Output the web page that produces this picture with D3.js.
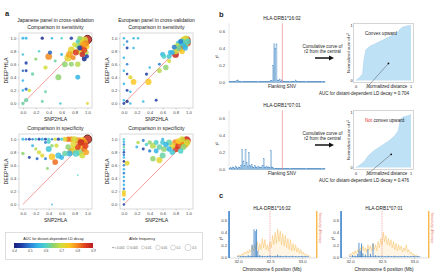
<!DOCTYPE html>
<html>
<head>
<meta charset="utf-8">
<script src="https://cdn.jsdelivr.net/npm/d3@7"></script>
<style>
  body { margin: 0; background: #fff; }
  svg { display: block; font-family: "Liberation Sans", Arial, sans-serif; }
</style>
</head>
<body>
<svg id="fig" width="440" height="279"></svg>
<script>
// ---- data: panel a, each point = [SNP2HLA, DEEP*HLA, AUC, allele freq]
const jpSens = [
  [1.0,0.98,0.88,0.5],[0.0,1.0,0.55,0.003],[0.05,1.0,0.55,0.003],[0.3,1.0,0.42,0.004],[0.45,1.0,0.55,0.002],
  [0.6,1.0,0.6,0.002],[0.75,1.0,0.45,0.005],[0.88,1.0,0.65,0.02],[0.9,0.95,0.72,0.1],[0.95,0.97,0.7,0.2],
  [0.93,0.9,0.78,0.05],[0.97,0.92,0.8,0.08],[0.85,0.88,0.65,0.03],[0.9,0.85,0.82,0.05],[0.95,0.82,0.85,0.04],
  [0.98,0.88,0.75,0.1],[0.8,0.9,0.7,0.02],[0.88,0.8,0.7,0.1],[0.75,0.82,0.72,0.15],[0.82,0.78,0.86,0.05],
  [0.92,0.75,0.88,0.03],[0.97,0.78,0.68,0.06],[0.85,0.95,0.6,0.01],[0.99,0.72,0.45,0.01],[0.78,0.7,0.8,0.02],
  [0.7,0.7,0.72,0.2],[0.72,0.75,0.78,0.1],[0.0,0.75,0.58,0.002],[0.05,0.62,0.45,0.004],[0.0,0.5,0.48,0.002],
  [0.05,0.5,0.45,0.003],[0.0,0.35,0.55,0.002],[0.05,0.22,0.48,0.004],[0.0,0.2,0.55,0.002],[0.1,0.2,0.7,0.005],
  [0.05,0.05,0.62,0.01],[0.0,0.0,0.62,0.005],[0.15,0.45,0.62,0.005],[0.2,0.68,0.65,0.004],[0.25,0.8,0.6,0.002],
  [0.35,0.55,0.7,0.01],[0.4,0.72,0.8,0.1],[0.42,0.78,0.48,0.01],[0.5,0.65,0.62,0.003],[0.55,0.4,0.65,0.05],
  [0.6,0.75,0.55,0.003],[0.65,0.6,0.65,0.04],[0.75,0.6,0.65,0.02],[0.85,0.6,0.68,0.03],[0.85,0.4,0.55,0.02],
  [0.3,0.03,0.62,0.003],[0.58,0.0,0.58,0.002],[1.0,0.0,0.72,0.003],[0.35,0.18,0.62,0.003],[0.88,0.85,0.45,0.02],
  [0.95,0.68,0.42,0.02],[0.9,0.95,0.7,0.3]
];
const euSens = [
  [0.97,0.97,0.88,0.5],[0.9,0.95,0.6,0.05],[0.93,0.92,0.8,0.1],[0.88,0.9,0.72,0.08],[0.95,0.9,0.65,0.1],
  [0.85,0.92,0.58,0.04],[0.92,0.88,0.55,0.05],[0.98,0.93,0.85,0.2],[0.82,0.88,0.7,0.03],[0.87,0.84,0.82,0.05],
  [0.9,0.8,0.75,0.04],[0.8,0.8,0.7,0.05],[0.85,0.85,0.62,0.03],[0.95,0.85,0.55,0.03],[0.78,0.86,0.5,0.02],
  [0.8,0.75,0.88,0.1],[0.75,0.78,0.55,0.02],[0.88,0.95,0.5,0.02],[0.96,0.99,0.7,0.1],[0.99,0.95,0.6,0.05],
  [0.93,0.97,0.75,0.2],[0.6,0.75,0.55,0.02],[0.62,0.72,0.6,0.02],[0.7,0.72,0.58,0.02],[0.72,0.78,0.55,0.02],
  [0.65,0.55,0.65,0.03],[0.55,0.5,0.68,0.02],[0.4,0.55,0.55,0.002],[0.35,0.45,0.45,0.004],[0.55,0.6,0.5,0.003],
  [0.7,0.65,0.7,0.01],[0.5,0.05,0.45,0.003],[0.3,0.03,0.55,0.002],[0.0,1.0,0.55,0.002],[0.05,0.95,0.5,0.002],
  [0.15,1.0,0.55,0.002],[0.22,1.0,0.55,0.002],[0.05,0.85,0.45,0.003],[0.15,0.85,0.55,0.002],[0.0,0.7,0.55,0.002],
  [0.05,0.6,0.5,0.002],[0.0,0.5,0.55,0.002],[0.05,0.45,0.45,0.002],[0.1,0.4,0.72,0.01],[0.15,0.33,0.75,0.04],
  [0.38,0.33,0.75,0.06],[0.0,0.3,0.55,0.002],[0.05,0.2,0.45,0.003],[0.1,0.18,0.55,0.002],[0.0,0.05,0.55,0.002],
  [0.05,0.03,0.42,0.004],[0.1,0.0,0.55,0.002],[0.0,0.0,0.45,0.003],[0.0,0.9,0.55,0.001]
];
const jpSpec = [
  [1.0,1.0,0.88,0.5],[0.0,1.0,0.55,0.003],[0.05,1.0,0.5,0.002],[0.1,1.0,0.45,0.003],[0.15,1.0,0.5,0.002],
  [0.2,1.0,0.6,0.003],[0.25,1.0,0.45,0.003],[0.3,1.0,0.55,0.004],[0.35,1.0,0.45,0.003],[0.4,1.0,0.6,0.003],
  [0.45,1.0,0.5,0.002],[0.5,1.0,0.7,0.005],[0.55,1.0,0.45,0.004],[0.6,1.0,0.6,0.004],[0.65,1.0,0.72,0.02],
  [0.7,1.0,0.82,0.03],[0.75,1.0,0.78,0.05],[0.8,1.0,0.7,0.05],[0.85,0.98,0.8,0.1],[0.92,0.98,0.75,0.15],
  [0.4,0.96,0.6,0.01],[0.35,0.95,0.5,0.003],[0.95,0.95,0.8,0.15],[0.9,0.9,0.75,0.1],[0.85,0.88,0.85,0.05],
  [0.8,0.85,0.72,0.1],[0.75,0.82,0.78,0.15],[0.88,0.8,0.65,0.1],[0.95,0.85,0.82,0.05],[0.78,0.92,0.72,0.05],
  [0.7,0.88,0.65,0.03],[0.82,0.78,0.6,0.08],[0.92,0.75,0.7,0.05],[0.97,0.9,0.85,0.05],[0.98,0.8,0.78,0.04],
  [0.9,0.95,0.88,0.1],[0.72,0.78,0.55,0.05],[0.0,0.78,0.65,0.005],[0.15,0.9,0.55,0.003],[0.2,0.85,0.68,0.004],
  [0.25,0.8,0.7,0.01],[0.3,0.75,0.72,0.01],[0.1,0.72,0.45,0.003],[0.22,0.7,0.48,0.003],[0.35,0.7,0.5,0.003],
  [0.4,0.85,0.58,0.05],[0.45,0.9,0.65,0.005],[0.45,0.73,0.75,0.08],[0.5,0.65,0.82,0.04],[0.55,0.75,0.57,0.06],
  [0.6,0.72,0.55,0.02],[0.65,0.78,0.62,0.03],[0.38,0.55,0.65,0.003],[0.85,0.45,0.6,0.001],[0.45,0.0,0.55,0.001],
  [0.52,0.9,0.7,0.01]
];
const euSpec = [
  [0.97,0.98,0.88,0.5],[0.0,1.0,0.6,0.002],[0.0,0.96,0.55,0.002],[0.0,0.92,0.5,0.002],[0.0,0.88,0.62,0.002],
  [0.0,0.84,0.55,0.002],[0.0,0.8,0.45,0.002],[0.0,0.76,0.5,0.002],[0.0,0.72,0.55,0.002],[0.0,0.66,0.42,0.002],
  [0.0,0.6,0.5,0.002],[0.0,0.54,0.55,0.002],[0.0,0.48,0.5,0.002],[0.0,0.42,0.55,0.002],[0.0,0.36,0.52,0.002],
  [0.0,0.3,0.55,0.002],[0.0,0.24,0.5,0.002],[0.0,0.19,0.72,0.01],[0.0,0.15,0.75,0.01],[0.0,0.08,0.55,0.002],
  [0.0,0.0,0.45,0.002],[0.05,0.63,0.72,0.02],[0.2,0.88,0.55,0.003],[0.22,0.95,0.68,0.005],[0.3,0.85,0.45,0.003],
  [0.35,0.92,0.6,0.005],[0.4,0.82,0.5,0.004],[0.4,0.95,0.65,0.01],[0.45,0.9,0.68,0.05],[0.5,0.95,0.6,0.02],
  [0.5,0.82,0.55,0.02],[0.55,0.88,0.62,0.03],[0.6,0.95,0.58,0.02],[0.62,0.85,0.65,0.04],[0.45,0.7,0.65,0.03],
  [0.55,0.68,0.72,0.06],[0.6,0.75,0.62,0.05],[0.65,0.92,0.55,0.03],[0.7,0.95,0.62,0.04],[0.7,0.85,0.55,0.03],
  [0.75,0.9,0.72,0.05],[0.75,0.8,0.58,0.03],[0.8,0.95,0.8,0.1],[0.8,0.85,0.86,0.08],[0.85,0.9,0.85,0.1],
  [0.85,0.97,0.75,0.05],[0.9,0.95,0.82,0.1],[0.92,0.88,0.65,0.05],[0.95,0.92,0.78,0.1],[0.98,0.95,0.7,0.08],
  [0.9,1.0,0.7,0.05],[0.88,0.82,0.6,0.03],[0.3,0.98,0.5,0.003],[0.6,1.0,0.55,0.003],[0.93,0.97,0.85,0.3]
];
const axisTicks = [0, 0.2, 0.4, 0.6, 0.8, 1.0];
const aucTicks = [0.4, 0.5, 0.6, 0.7, 0.8, 0.9];
const afLevels = [0.001, 0.005, 0.01, 0.05, 0.1, 0.5];
const afLabels = ['< 0.001', '0.005', '0.01', '0.05', '0.1', '0.5'];

// ---- data: panel b, r2 of flanking SNVs (ordered by position)
const r2Drb1602 = [
  0.01,0.015,0.01,0.01,0.015,0.01,0.01,0.02,0.03,0.01, 0.015,0.01,0.01,0.015,0.01,0.01,0.01,0.015,0.01,0.01,
  0.015,0.01,0.015,0.01,0.01,0.015,0.01,0.01,0.015,0.01, 0.01,0.015,0.01,0.01,0.015,0.01,0.015,0.01,0.015,0.025,
  0.02,0.2,0.45,0.4,0.45,0.03,0.02,0.04,0.015,0.03, 0.015,0.01,0.015,0.01,0.01,0.015,0.01,0.01,0.015,0.01,
  0.015,0.01,0.03,0.01,0.015,0.01,0.01,0.015,0.01,0.01, 0.01,0.015,0.01,0.01,0.01,0.015,0.01,0.01,0.01,0.01,
  0.01,0.01,0.015,0.01,0.01,0.01,0.01,0.01,0.01,0.01
];
const r2Drb0701 = [
  0.01,0.02,0.01,0.03,0.02,0.01,0.04,0.02,0.01,0.03, 0.02,0.05,0.23,0.1,0.05,0.23,0.08,0.04,0.2,0.05,
  0.04,0.06,0.03,0.02,0.05,0.03,0.02,0.04,0.03,0.02, 0.03,0.05,0.13,0.03,0.02,0.04,0.02,0.03,0.02,0.22,
  0.03,0.02,0.01,0.015,0.01,0.01,0.015,0.01,0.01,0.01, 0.01,0.01,0.01,0.01,0.015,0.01,0.01,0.01,0.01,0.01,
  0.01,0.01,0.01,0.01,0.01,0.01,0.01,0.01,0.01,0.01, 0.01,0.01,0.01,0.01,0.01,0.01,0.01,0.01,0.01,0.01,
  0.01,0.01,0.01,0.01,0.01,0.01,0.01,0.01,0.01,0.01
];
const centralIndex = 50;
// cumulative curves (normalized distance, normalized sum of r2)
const cum1602Dist = [0,0.07,0.12,0.145,0.18,0.25,0.38,0.5,0.62,0.74,0.83,0.92,1];
const cum1602Sum  = [0,0.06,0.12,0.37,0.56,0.62,0.68,0.74,0.8,0.86,0.96,0.99,1];
const cum0701Dist = [0,0.07,0.16,0.22,0.32,0.41,0.5,0.62,0.71,0.77,0.81,0.86,0.98,1];
const cum0701Sum  = [0,0.04,0.12,0.21,0.3,0.36,0.42,0.5,0.58,0.67,0.88,0.92,0.95,0.97];

// ---- data: panel c, positions in Mb
const c1602Pos = [32.0,32.04,32.08,32.12,32.16,32.2,32.22,32.25,32.27,32.29,32.31,32.34,32.38,32.42,32.46,32.5,32.54,32.58,32.62,32.66,32.7,32.75,32.8,32.85,32.9,32.95,33.0,33.05,33.1];
const c1602R2  = [0.02,0.01,0.02,0.01,0.03,0.02,0.2,0.45,0.42,0.45,0.1,0.03,0.02,0.01,0.02,0.03,0.01,0.02,0.04,0.02,0.01,0.02,0.01,0.02,0.01,0.01,0.02,0.01,0.01];
const c0701Pos = [32.0,32.04,32.08,32.12,32.14,32.16,32.18,32.2,32.24,32.28,32.32,32.36,32.4,32.45,32.5,32.55,32.6,32.65,32.7,32.75,32.8,32.85,32.9,32.95,33.0,33.05];
const c0701R2  = [0.02,0.03,0.02,0.05,0.23,0.1,0.22,0.06,0.04,0.13,0.05,0.22,0.03,0.02,0.02,0.01,0.02,0.01,0.02,0.01,0.01,0.02,0.01,0.01,0.02,0.01];
const sens1602Pos = d3.range(31.98, 33.15, 0.02).map(v => +v.toFixed(2));
const sens1602 = [0.01,0.02,0.03,0.02,0.05,0.03,0.08,0.05,0.1,0.06,0.12,0.08,0.18,0.1,0.2,0.12,0.25,0.1,0.22,0.12,
  0.3,0.15,0.28,0.12,0.2,0.1,0.25,0.15,0.35,0.2,0.4,0.22,0.45,0.25,0.42,0.2,0.38,0.18,0.35,0.15,
  0.3,0.12,0.28,0.1,0.22,0.1,0.2,0.08,0.15,0.06,0.12,0.05,0.08,0.03,0.05,0.02,0.03,0.01,0.0];
const sens0701Pos = d3.range(31.98, 33.09, 0.02).map(v => +v.toFixed(2));
const sens0701 = [0.02,0.05,0.03,0.08,0.04,0.1,0.06,0.12,0.08,0.15,0.1,0.18,0.1,0.15,0.08,0.2,0.12,0.18,0.1,0.22,
  0.12,0.2,0.1,0.25,0.15,0.3,0.2,0.4,0.25,0.35,0.2,0.3,0.18,0.28,0.15,0.25,0.12,0.22,0.1,0.2,
  0.12,0.18,0.08,0.15,0.1,0.2,0.08,0.12,0.05,0.08,0.03,0.05,0.02,0.03,0.01,0.0];

// ---- helpers
const svg = d3.select('#fig');
const blue = '#1f6fc5';
const orange = '#f7b84a';
const aucColor = d3.scaleLinear()
  .domain([0.4,0.45,0.5,0.55,0.6,0.65,0.7,0.75,0.8,0.85,0.9])
  .range(['#1b1f7a','#1f3fa8','#2a7fd4','#34b5e5','#4fd0c9','#8fd36f','#d3dd3b','#fbc824','#f58a1f','#e0401e','#b81a22'])
  .clamp(true);
const rScale = d3.scaleLog().domain([0.001, 0.5]).range([0.9, 4.2]).clamp(true);

function txt(x, y, s, size, o = {}) {
  const t = svg.append('text').attr('x', x).attr('y', y).attr('font-size', size)
    .attr('text-anchor', o.anchor || 'middle').attr('dominant-baseline', 'central')
    .attr('fill', o.fill || '#222').text(s);
  if (o.rotate) t.attr('transform', `rotate(${o.rotate},${x},${y})`);
  if (o.bold) t.attr('font-weight', 'bold');
  if (o.italic) t.attr('font-style', 'italic');
  return t;
}

function styleAxis(g, size) {
  g.attr('font-size', size).attr('font-family', null);
  g.select('.domain').remove();
  g.selectAll('.tick line').attr('stroke', '#999').attr('stroke-width', 0.5);
  g.selectAll('.tick text').attr('fill', '#444');
}

// ---- panel a
function scatterPanel(data, b, ring) {
  const x = d3.scaleLinear().domain([-0.06, 1.07]).range([b.x0, b.x1]);
  const y = d3.scaleLinear().domain([-0.07, 1.08]).range([b.y1, b.y0]);
  const g = svg.append('g');
  g.append('rect').attr('x', b.x0).attr('y', b.y0).attr('width', b.x1 - b.x0).attr('height', b.y1 - b.y0)
    .attr('fill', 'none').attr('stroke', '#cfcfcf').attr('stroke-width', 0.8);
  g.append('path').attr('class', 'diag')
    .attr('d', d3.line()([[x(0), y(0)], [x(1), y(1)]]))
    .attr('fill', 'none').attr('stroke', '#f08585').attr('stroke-width', 0.8);
  const sorted = data.slice().sort((p, q) => q[3] - p[3]);
  g.selectAll('circle').data(sorted).join('circle')
    .attr('cx', d => x(d[0])).attr('cy', d => y(d[1])).attr('r', d => rScale(d[3]))
    .attr('fill', d => aucColor(d[2])).attr('fill-opacity', 0.85)
    .attr('stroke', d => ring && d[3] >= 0.5 ? '#5b2414' : 'none').attr('stroke-width', 0.9);
  const fmt = d3.format('.1f');
  g.append('g').attr('transform', `translate(0,${b.y1})`)
    .call(d3.axisBottom(x).tickValues(axisTicks).tickSize(1.2).tickPadding(1.5).tickFormat(fmt))
    .call(a => styleAxis(a, 4.2));
  g.append('g').attr('transform', `translate(${b.x0},0)`)
    .call(d3.axisLeft(y).tickValues(axisTicks).tickSize(1.2).tickPadding(1.5).tickFormat(fmt))
    .call(a => styleAxis(a, 4.2));
  const cx = (b.x0 + b.x1) / 2;
  txt(cx, b.y1 + 10.5, 'SNP2HLA', 5.1);
  txt(b.x0 - 13, (b.y0 + b.y1) / 2, 'DEEP*HLA', 5.1, { rotate: -90 });
}

const boxTL = { x0: 19, x1: 92, y0: 33, y1: 108 };
const boxTR = { x0: 120, x1: 193, y0: 33, y1: 108 };
const boxBL = { x0: 19, x1: 92, y0: 134, y1: 209 };
const boxBR = { x0: 120, x1: 193, y0: 134, y1: 209 };

txt(5, 13, 'a', 7.5, { bold: true, anchor: 'start' });
txt(55.5, 19.5, 'Japanese panel in cross-validation', 5);
txt(156.5, 19.5, 'European panel in cross-validation', 5);
txt(55.5, 27, 'Comparison in sensitivity', 5.1);
txt(156.5, 27, 'Comparison in sensitivity', 5.1);
txt(55.5, 128, 'Comparison in specificity', 5.1);
txt(156.5, 128, 'Comparison in specificity', 5.1);
scatterPanel(jpSens, boxTL, true);
scatterPanel(euSens, boxTR, false);
scatterPanel(jpSpec, boxBL, true);
scatterPanel(euSpec, boxBR, false);

// legend box
svg.append('rect').attr('x', 5.5).attr('y', 232.5).attr('width', 197).attr('height', 27)
  .attr('fill', 'none').attr('stroke', '#d0d0d0').attr('stroke-width', 0.7);
const grad = svg.append('defs').append('linearGradient').attr('id', 'aucGrad');
d3.range(0, 1.0001, 0.05).forEach(t => {
  grad.append('stop').attr('offset', t).attr('stop-color', aucColor(0.4 + t * 0.5));
});
const cbx = d3.scaleLinear().domain([0.4, 0.9]).range([14, 93]);
svg.append('rect').attr('x', cbx(0.4)).attr('y', 243).attr('width', cbx(0.9) - cbx(0.4)).attr('height', 5)
  .attr('fill', 'url(#aucGrad)');
svg.append('g').attr('transform', 'translate(0,248)')
  .call(d3.axisBottom(cbx).tickValues(aucTicks).tickSize(0.8).tickPadding(1.2).tickFormat(d3.format('.1f')))
  .call(a => styleAxis(a, 3.3));
txt(53.5, 239, 'AUC for distant-dependent LD decay', 3.7);
txt(142, 239, 'Allele frequency', 3.7);
const afx = d3.scalePoint().domain(afLevels).range([113, 188]);
afLevels.forEach((v, i) => {
  const cx = afx(v);
  svg.append('circle').attr('cx', cx).attr('cy', 247.5).attr('r', i === 0 ? 0.6 : rScale(v) * 0.75)
    .attr('fill', i === 0 ? '#888' : 'none').attr('stroke', '#999').attr('stroke-width', 0.4);
  txt(cx + (i === 0 ? 1.5 : rScale(v) * 0.75 + 1), 247.5, afLabels[i], 3, { anchor: 'start', fill: '#555' });
});

// ---- panel b
txt(219, 14, 'b', 7.5, { bold: true, anchor: 'start' });
const bx = d3.scaleBand().domain(d3.range(r2Drb1602.length)).range([229, 325]);

function ldPanel(vals, dy, title, curveX, curveY, convex, auc, dot) {
  const y = d3.scaleLinear().domain([0, 0.6]).range([82.5 + dy, 31 + dy]);
  const g = svg.append('g');
  txt(282, 18.5 + dy, title, 4.8);
  g.append('line').attr('x1', 229).attr('x2', 229).attr('y1', y(0.69)).attr('y2', y(0))
    .attr('stroke', '#ccc').attr('stroke-width', 0.5);
  g.append('line').attr('x1', 229).attr('x2', 325).attr('y1', y(0)).attr('y2', y(0))
    .attr('stroke', '#ccc').attr('stroke-width', 0.5);
  g.selectAll('rect.bar').data(vals).join('rect').attr('class', 'bar')
    .attr('x', (d, i) => bx(i)).attr('width', bx.bandwidth())
    .attr('y', d => y(d)).attr('height', d => y(0) - y(d))
    .attr('fill', '#8fc1e6').attr('fill-opacity', 0.5)
    .attr('stroke', '#2a74bb').attr('stroke-width', 0.3).attr('stroke-opacity', 0.75);
  const rx = bx(centralIndex);
  g.append('line').attr('x1', rx).attr('x2', rx).attr('y1', y(0.69)).attr('y2', y(0))
    .attr('stroke', '#f08a8a').attr('stroke-width', 0.7);
  g.append('g').attr('transform', 'translate(226,0)')
    .call(d3.axisLeft(y).tickValues([0, 0.2, 0.4, 0.6]).tickSize(0).tickPadding(1).tickFormat(d3.format('.1f')))
    .call(a => styleAxis(a, 4.2));
  txt(217, y(0.3), 'r²', 4.5, { italic: true, rotate: -90 });
  txt(282, 86.5 + dy, 'Flanking SNV', 4.6);

  // arrow + text
  txt(322.5, 46 + dy, 'Cumulative curve of', 4.5);
  txt(322.5, 51.5 + dy, 'r2 from the central', 4.5);
  g.append('line').attr('x1', 315).attr('x2', 330).attr('y1', 58 + dy).attr('y2', 58 + dy)
    .attr('stroke', '#111').attr('stroke-width', 1.5);
  g.append('path').attr('d', `M329,${55.5 + dy} L334,${58 + dy} L329,${60.5 + dy} Z`).attr('fill', '#111');

  // inset
  const ix = d3.scaleLinear().domain([0, 1]).range([356, 411]);
  const iy = d3.scaleLinear().domain([0, 1]).range([80.5 + dy, 25.5 + dy]);
  g.append('rect').attr('x', 353.5).attr('y', 23.5 + dy).attr('width', 60).attr('height', 59)
    .attr('fill', '#fff').attr('stroke', '#c4c4c4').attr('stroke-width', 0.7);
  const pts = curveX.map((d, i) => [d, curveY[i]]);
  g.append('path').datum(pts)
    .attr('d', d3.area().x(d => ix(d[0])).y0(iy(0)).y1(d => iy(d[1])))
    .attr('fill', '#bfe1f5');
  g.append('path').datum(pts)
    .attr('d', d3.line().x(d => ix(d[0])).y(d => iy(d[1])))
    .attr('fill', 'none').attr('stroke', '#9ccbe8').attr('stroke-width', 0.5);
  txt(352.5, iy(1), '1', 3.8, { anchor: 'end' });
  txt(352.5, iy(0), '0', 3.8, { anchor: 'end' });
  txt(ix(0), 86.5 + dy, '0', 3.8);
  txt(ix(1), 86.5 + dy, '1', 3.8);
  txt(387, 86.5 + dy, 'Normalized distance', 4.5);
  txt(348.5, iy(0.5), 'Normalized sum of r²', 4.3, { rotate: -90 });
  if (convex) {
    txt(365, 33 + dy, 'Convex upward', 4.6, { anchor: 'start' });
  } else {
    const t = txt(365, 33 + dy, '', 4.6, { anchor: 'start' });
    t.append('tspan').attr('fill', '#e3342f').text('Not');
    t.append('tspan').text(' convex upward');
  }
  g.append('line').attr('x1', ix(dot[0])).attr('y1', iy(dot[1])).attr('x2', 366).attr('y2', 88.5 + dy)
    .attr('stroke', '#333').attr('stroke-width', 0.4);
  g.append('circle').attr('cx', ix(dot[0])).attr('cy', iy(dot[1])).attr('r', 0.9).attr('fill', '#111');
  txt(364, 93 + dy, 'AUC for distant-dependent LD decay = ' + auc, 4.5);
}
ldPanel(r2Drb1602, 0, 'HLA-DRB1*16:02', cum1602Dist, cum1602Sum, true, '0.704', [0.59, 0.31]);
ldPanel(r2Drb0701, 87, 'HLA-DRB1*07:01', cum0701Dist, cum0701Sum, false, '0.476', [0.64, 0.24]);

// ---- panel c
txt(219, 195.5, 'c', 7.5, { bold: true, anchor: 'start' });

function regionPanel(x0, pos, r2, sPos, sVals, title) {
  const x = d3.scaleLinear().domain([32, 33]).range([x0, x0 + 64]);
  const y = d3.scaleLinear().domain([0, 0.6]).range([257, 220]);
  const g = svg.append('g');
  const left = x(31.86), right = x(33.23);
  txt(x(32.5) + 2, 208, title, 4.8);
  g.append('line').attr('x1', left).attr('x2', right).attr('y1', y(0) + 1).attr('y2', y(0) + 1)
    .attr('stroke', '#bbb').attr('stroke-width', 0.5);
  // sensitivity trace
  const pts = sPos.map((p, i) => [p, sVals[i]]);
  g.append('path').datum(pts)
    .attr('d', d3.area().x(d => x(d[0])).y0(y(0)).y1(d => y(d[1])))
    .attr('fill', orange).attr('fill-opacity', 0.14);
  g.append('path').datum(pts)
    .attr('d', d3.line().x(d => x(d[0])).y(d => y(d[1])))
    .attr('fill', 'none').attr('stroke', orange).attr('stroke-width', 0.6).attr('stroke-opacity', 0.75);
  // r2 spikes
  g.selectAll('line.r2').data(pos).join('line').attr('class', 'r2')
    .attr('x1', d => x(d)).attr('x2', d => x(d))
    .attr('y1', y(0)).attr('y2', (d, i) => y(r2[i]))
    .attr('stroke', blue).attr('stroke-width', 0.9).attr('stroke-opacity', 0.8);
  g.append('line').attr('x1', x(32.02)).attr('x2', x(33.1)).attr('y1', y(0.005)).attr('y2', y(0.005))
    .attr('stroke', blue).attr('stroke-width', 0.8).attr('stroke-opacity', 0.7);
  // central marker
  g.append('line').attr('x1', x(32.5)).attr('x2', x(32.5)).attr('y1', 211).attr('y2', y(0))
    .attr('stroke', '#f08a8a').attr('stroke-width', 0.6).attr('stroke-dasharray', '1.5,0.8');
  // axes
  g.append('line').attr('x1', left).attr('x2', left).attr('y1', 211).attr('y2', y(0) + 1)
    .attr('stroke', blue).attr('stroke-width', 1.4);
  g.append('line').attr('x1', right).attr('x2', right).attr('y1', 211).attr('y2', y(0) + 1)
    .attr('stroke', orange).attr('stroke-width', 1.4);
  g.append('g').attr('transform', `translate(${left - 1},0)`)
    .call(d3.axisLeft(y).tickValues([0, 0.2, 0.4, 0.6]).tickSize(0).tickPadding(1).tickFormat(d3.format('.1f')))
    .call(a => styleAxis(a, 4.2));
  g.append('g').attr('transform', `translate(0,${y(0) + 1})`)
    .call(d3.axisBottom(x).tickValues([32, 32.5, 33]).tickSize(1).tickPadding(1.5).tickFormat(d3.format('.1f')))
    .call(a => styleAxis(a, 4.2));
  txt(x(32.5) + 2, 269.5, 'Chromosome 6 position (Mb)', 4.6);
  txt(left - 8, y(0.3), 'r²', 4.5, { italic: true, rotate: -90 });
  txt(right + 3.5, 228, 'Sensitivity difference', 3.4, { rotate: 90, fill: '#e8735a' });
}
regionPanel(238, c1602Pos, c1602R2, sens1602Pos, sens1602, 'HLA-DRB1*16:02');
regionPanel(350, c0701Pos, c0701R2, sens0701Pos, sens0701, 'HLA-DRB1*07:01');
</script>
</body>
</html>
